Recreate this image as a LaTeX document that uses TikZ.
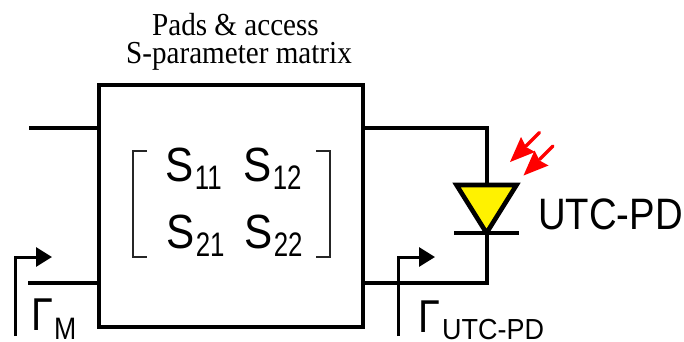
\documentclass[tikz,border=0pt]{standalone}
\usepackage{fontspec}
\setmainfont{Liberation Sans}
\newfontfamily\titlefont{Liberation Serif}
\usetikzlibrary{arrows.meta}
\newcommand{\szt}[3]{\scalebox{#2}[1]{\fontsize{#1}{#1}\selectfont #3}}
\tikzset{
  wire/.style={line width=4.6pt},
  refl/.style={line width=3pt,-{Triangle[length=16pt,width=19pt]}},
  brk/.style={line width=2.2pt,color=black!85},
  lbl/.style={inner sep=0pt,anchor=base west},
  ttl/.style={inner sep=0pt,anchor=base,font=\titlefont},
  ray/.style={fill=red,draw=none},
  rayline/.style={draw=red,line width=3.4pt,line cap=round}
}
\begin{document}
\begin{tikzpicture}[x=1pt,y=-1pt]
\useasboundingbox (0,0) rectangle (684,342);
% title
\node[ttl] (t1) at (235.5,36) {\szt{32}{0.91}{Pads \& access}};
\node[ttl] (t2) at (239,64) {\szt{32}{0.91}{S-parameter matrix}};
% box
\node[draw,line width=4.6pt,minimum width=264pt,minimum height=242pt,inner sep=0pt,anchor=north west] (box) at (96.7,82.7) {};
% ends
\coordinate (inT) at (29,128);
\coordinate (inB) at (28,283);
\coordinate (boxT) at (99,128);
\coordinate (boxB) at (99,283);
\coordinate (outT) at (363,128);
\coordinate (outB) at (363,283);
\coordinate (cornT) at (487,128);
\coordinate (cornB) at (487,283);
\coordinate (triL) at (456.5,185);
\coordinate (triR) at (516.5,185);
\coordinate (triA) at (486.5,233);
\coordinate (triTop) at (487,185);
\coordinate (barL) at (454,233);
\coordinate (barR) at (519,233);
\coordinate (barM) at (487,233);
\draw[wire,line join=miter] (outT) -- (cornT) -- (triTop);
\draw[wire,line join=miter] (barM) -- (cornB) -- (outB);
\draw[wire] (inT) -- (boxT);
\draw[wire] (inB) -- (boxB);
\draw[wire,fill=yellow,line join=miter] (triL) -- (triR) -- (triA) -- cycle;
\draw[wire] (barL) -- (barR);
% rays
\foreach \dx/\dy/\nm in {0/0/a,13.5/13.5/b}{
  \begin{scope}[shift={(\dx,\dy)}]
  \coordinate (ray\nm T) at (539.5,132.5);
  \coordinate (ray\nm H) at (526,146);
  \draw[rayline] (ray\nm T) -- (ray\nm H);
  \fill[ray] (510,162) -- (521,137) -- (526,147) -- (535,152) -- cycle;
  \end{scope}
}
% matrix
\draw[brk] (147,151) -- (133,151) -- (133,257) -- (147,257);
\draw[brk] (316,151) -- (330,151) -- (330,257) -- (316,257);
\newcommand{\entry}[2]{\szt{48}{0.88}{S}\hspace{1.5pt}\raisebox{-8pt}{\szt{34}{0.76}{#1#2}}}
\node[lbl] (s11) at (165,181) {\entry{1}{1}};
\node[lbl] (s12) at (243,181) {\entry{1}{2}};
\node[lbl] (s21) at (166,248) {\entry{2}{1}};
\node[lbl] (s22) at (244,248) {\entry{2}{2}};
% UTC-PD
\node[lbl] (pd) at (538,229) {\szt{44}{0.87}{UTC-PD}};
% reflections
\coordinate (mA) at (15.5,336);
\coordinate (mB) at (15.5,257);
\coordinate (mC) at (52,257);
\draw[refl,line join=miter] (mA) -- (mB) -- (mC);
\coordinate (uA) at (398.5,336);
\coordinate (uB) at (398.5,257);
\coordinate (uC) at (435,257);
\draw[refl,line join=miter] (uA) -- (uB) -- (uC);
\node[lbl] (gm) at (31,330) {\szt{46}{0.86}{Γ}};
\node[lbl] (gms) at (54,339) {\szt{31}{0.86}{M}};
\node[lbl] (gu) at (418,332) {\szt{46}{0.86}{Γ}};
\node[lbl] (gus) at (442,339) {\szt{29}{0.93}{UTC-PD}};
\end{tikzpicture}
\end{document}
